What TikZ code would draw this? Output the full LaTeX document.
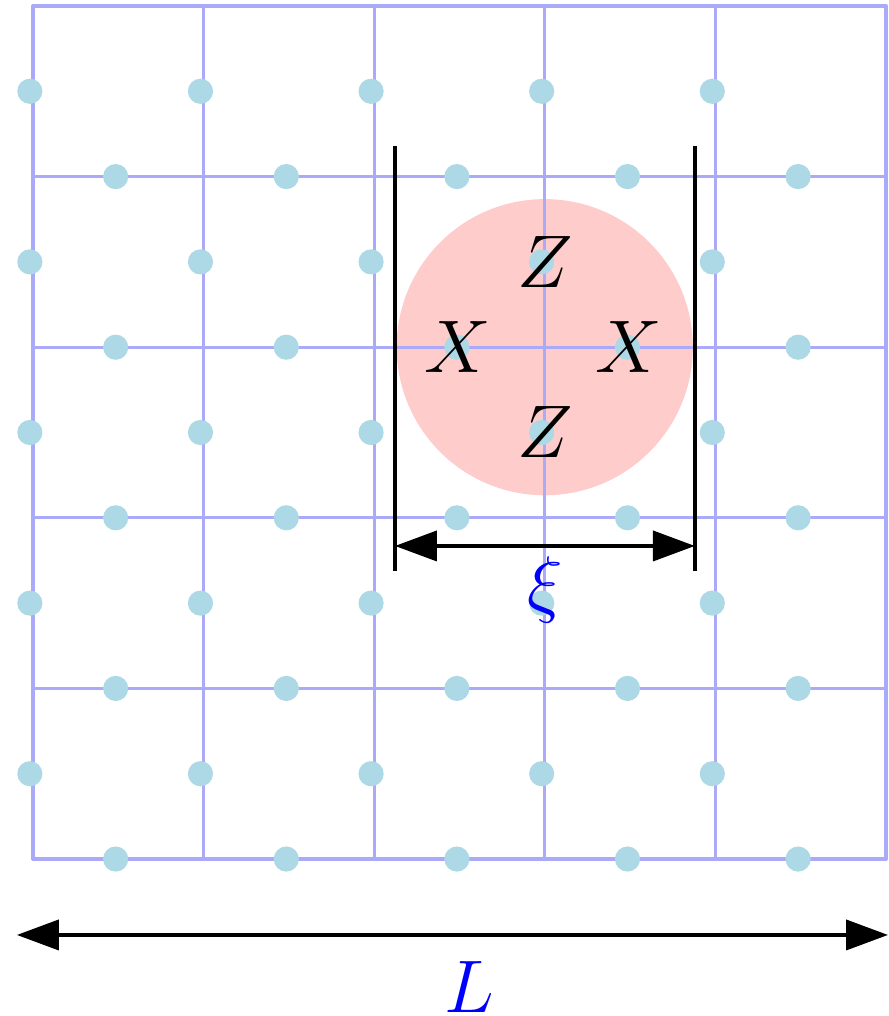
\documentclass[tikz,border=0pt]{standalone}
\usetikzlibrary{arrows.meta}
\definecolor{gridblue}{HTML}{AAAAF8}
\definecolor{qubit}{HTML}{ADD8E6}
\definecolor{patch}{HTML}{FFCCCC}
\begin{document}
\begin{tikzpicture}[x=2cm, y=2cm,
    font=\Huge,
    lattice/.style={gridblue, line width=1.1pt, line cap=round},
    qb/.style={fill=qubit},
    bar/.style={line width=1.1pt},
    dim/.style={{Triangle[length=14pt,width=10pt]}-{Triangle[length=14pt,width=10pt]}, line width=1.3pt},
    op/.style={inner sep=0pt},
    lbl/.style={text=blue, inner sep=0pt},
  ]
  \useasboundingbox (-0.193,-0.92) rectangle (5.012,5.035);
  % correlated patch
  \fill[patch] (3,3) circle (0.868);
  % lattice
  \foreach \i in {0,...,5} {
    \draw[lattice] (\i,0) -- (\i,5);
    \draw[lattice] (0,\i) -- (5,\i);
  }
  % qubits on the edges
  \foreach \i in {0,...,4}
    \foreach \j in {0,...,4} {
      \fill[qb] (\i-0.018,\j+0.5) circle (4.2pt);
      \fill[qb] (\i+0.485,\j) circle (4.2pt);
    }
  % operators
  \node[op] (ztop) at (3,3.5) {$Z$};
  \node[op] (zbot) at (3,2.5) {$Z$};
  \node[op] (xleft) at (2.49,3) {$X$};
  \node[op] (xright) at (3.49,3) {$X$};
  % correlation length
  \coordinate (bl1) at (2.122,4.18);
  \coordinate (bl2) at (2.122,1.69);
  \coordinate (br1) at (3.88,4.18);
  \coordinate (br2) at (3.88,1.69);
  \coordinate (xil) at (2.122,1.835);
  \coordinate (xir) at (3.88,1.835);
  \draw[bar] (bl1) -- (bl2);
  \draw[bar] (br1) -- (br2);
  \draw[dim] (xil) -- (xir);
  \node[lbl] (xi) at (3.0,1.577) {$\xi$};
  % system size
  \coordinate (sl) at (-0.094,-0.445);
  \coordinate (sr) at (5.012,-0.445);
  \draw[dim] (sl) -- (sr);
  \node[lbl] (size) at (2.56,-0.75) {$L$};
\end{tikzpicture}
\end{document}
